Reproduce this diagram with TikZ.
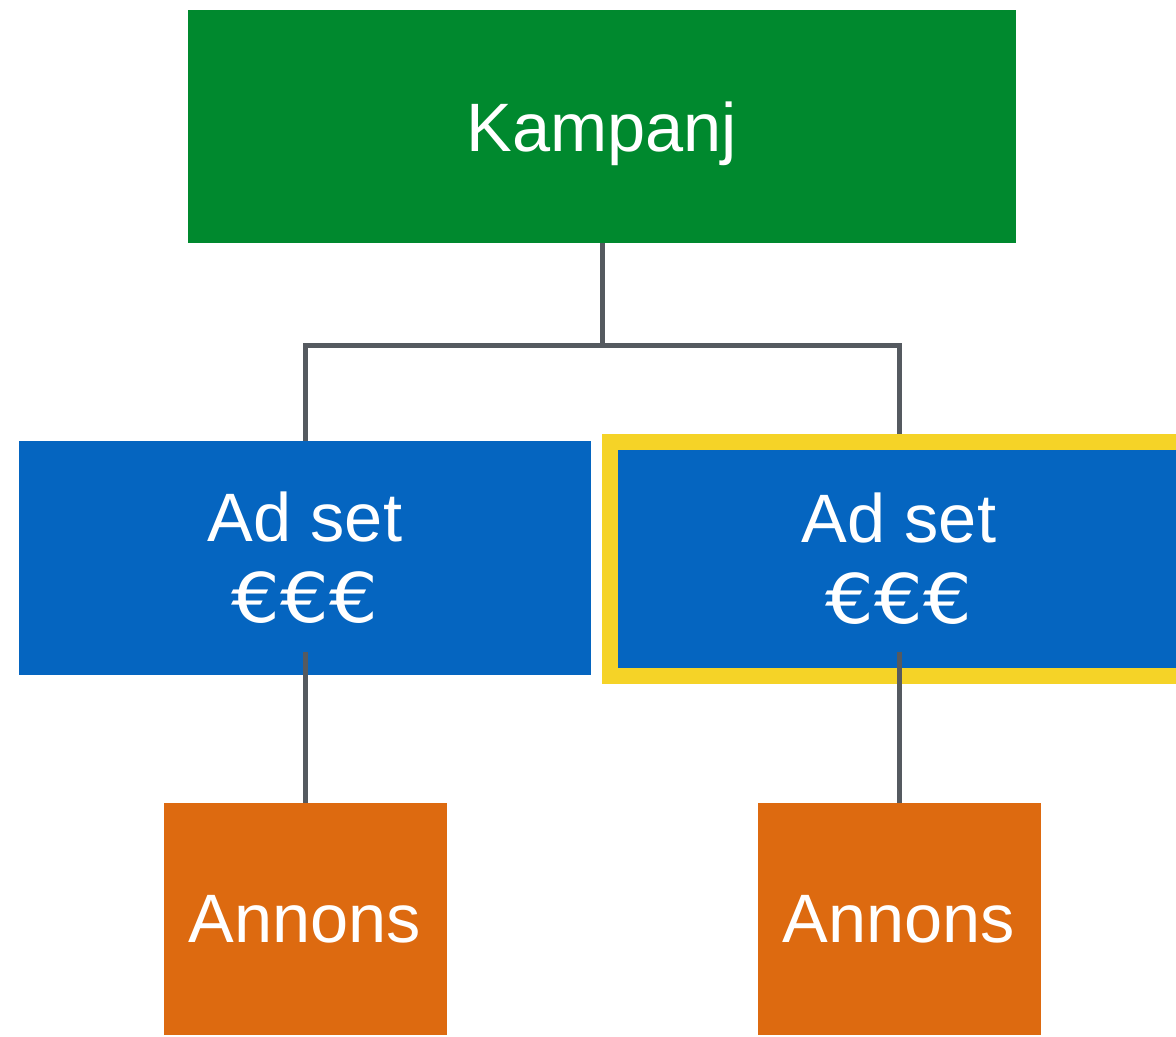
\documentclass[tikz,border=0pt]{standalone}
\usepackage{fontspec}
\usepackage{graphicx}
\setmainfont{Liberation Sans}
\newfontfamily\eurofont{DejaVu Sans}
\usetikzlibrary{positioning}
\definecolor{campgreen}{RGB}{0, 137, 46}
\definecolor{setblue}{RGB}{5, 101, 192}
\definecolor{adorange}{RGB}{221, 106, 16}
\definecolor{pickyellow}{RGB}{245, 211, 39}
\definecolor{conngray}{RGB}{85, 90, 96}
\newcommand{\budget}{\scalebox{1.12}[1]{\eurofont €€€}}

\begin{document}
\begin{tikzpicture}[
        boxtxt/.style={text=white, align=center,
            font=\fontsize{39}{46}\selectfont, inner sep=0pt},
        campbox/.style={boxtxt, fill=campgreen, text depth=0pt,
            minimum width=16.56cm, minimum height=4.66cm},
        setbox/.style={boxtxt, fill=setblue,
            minimum width=11.44cm, minimum height=4.68cm},
        adbox/.style={boxtxt, fill=adorange,
            minimum width=5.66cm, minimum height=4.64cm},
        conn/.style={line width=0.1cm, conngray}
    ]
    \useasboundingbox (0,0) rectangle (23.52,-20.72);

    % === Campaign level ===
    \node[campbox] (camp) at (12.04,-2.53) {Kampanj};

    % === Ad sets (right one highlighted) ===
    \node[setbox] (set1) at (6.10,-11.16) {Ad set\\\budget};
    \node[setbox, draw=pickyellow, line width=0.32cm,
          minimum width=11.56cm] (set2) at (17.98,-11.17)
        {Ad set\\\budget};

    % === Ads ===
    \node[adbox] (ad1) at (6.10,-18.38) {Annons};
    \node[adbox] (ad2) at (17.98,-18.38) {Annons};

    % === Connectors ===
    \coordinate (split) at ([yshift=-2.04cm]camp.south);
    \draw[conn] (camp.south) -- (split);
    \draw[conn] (set1.north) |- (split) -| (set2.north);
    \draw[conn] ([yshift=0.46cm]set1.south) -- (ad1.north);
    \draw[conn] ([yshift=0.64cm]set2.south) -- (ad2.north);

\end{tikzpicture}
\end{document}
